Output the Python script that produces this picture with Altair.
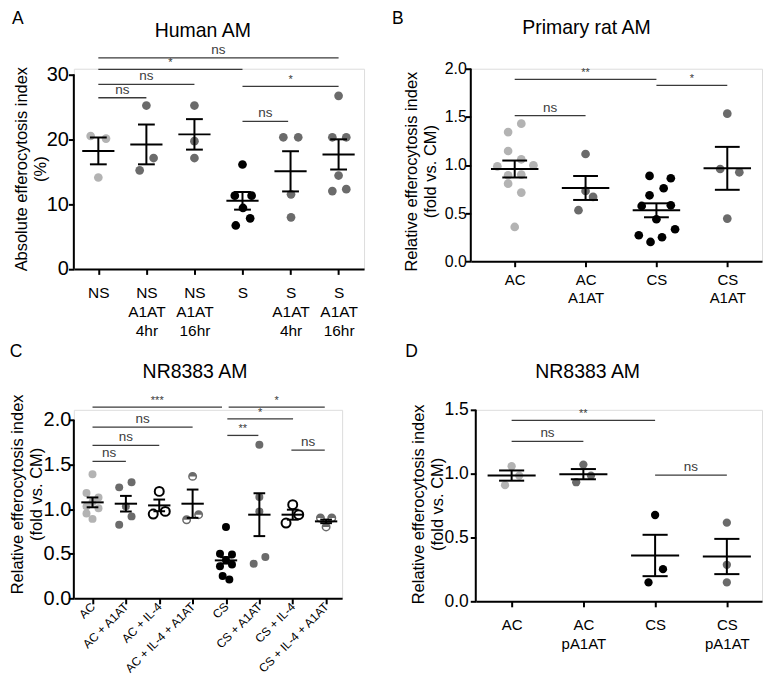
import altair as alt
import pandas as pd

FONT = "Liberation Sans"
LIGHT = "#b3b3b3"
DARK = "#6b6b6b"
BLACK = "#000000"
SIG = "#3a3a3a"
HALF_PATH = "M -1 0 A 1 1 0 0 1 1 0 Z"

# ---------------- Panel A : Human AM ----------------
a_labels = ["NS", "NS|A1AT|4hr", "NS|A1AT|16hr", "S", "S|A1AT|4hr", "S|A1AT|16hr"]
a_group = [0, 0, 0, 1, 1, 1, 2, 2, 2, 3, 3, 3, 3, 3, 3, 4, 4, 4, 4, 5, 5, 5, 5, 5, 5]
a_value = [20.5, 20.1, 14.1,
           25.2, 17.1, 15.2,
           25.2, 19.7, 17.1,
           16.1, 11.3, 11.3, 9.4, 7.8, 6.7,
           20.3, 20.3, 11.5, 7.95,
           26.7, 20.3, 20.3, 14.4, 12.0, 12.3]
a_jitter = [-0.16, 0.16, 0.0,
            0.0, 0.15, -0.14,
            0.0, 0.0, 0.0,
            0.0, -0.16, 0.19, 0.01, 0.16, -0.14,
            -0.15, 0.16, 0.01, 0.01,
            0.0, -0.13, 0.16, 0.0, -0.13, 0.16]
a_mean = [18.2, 19.2, 20.75, 10.5, 15.05, 17.66]
a_sem = [2.07, 3.07, 2.35, 1.36, 3.1, 2.33]
a_sig_from = [0, 0, 0, 0, 3, 3]
a_sig_to = [5, 3, 2, 1, 5, 3.95]
a_sig_y = [32.56, 30.77, 28.46, 26.4, 28.15, 22.77]
a_sig_text = ["ns", "*", "ns", "ns", "*", "ns"]
a_colors = [LIGHT, DARK, DARK, BLACK, DARK, DARK]
a_kinds = ["fill"] * 6

# ---------------- Panel B : Primary rat AM ----------------
b_labels = ["AC", "AC|A1AT", "CS", "CS|A1AT"]
b_group = [0] * 11 + [1] * 4 + [2] * 11 + [3] * 4
b_value = [1.429, 1.342, 1.145, 1.059, 0.986, 0.996, 0.893, 0.90, 0.806, 0.713, 0.356,
           1.114, 0.73, 0.668, 0.53,
           0.886, 0.862, 0.758, 0.685, 0.574, 0.581, 0.436, 0.27, 0.332, 0.249, 0.20,
           1.533, 0.958, 0.924, 0.443]
b_jitter = [0.093, -0.093, -0.093, 0.093, -0.245, 0.264, -0.093, 0.093, -0.093, 0.093, 0.0,
            0.0, 0.0, 0.106, -0.10,
            -0.097, 0.203, 0.102, -0.097, -0.208, 0.203, 0.0, -0.249, 0.263, 0.079, -0.083,
            0.0, -0.10, 0.17, 0.0]
b_mean = [0.958, 0.761, 0.529, 0.965]
b_sem = [0.088, 0.1245, 0.0725, 0.223]
b_sig_from = [0, 2, 0]
b_sig_to = [2, 3, 1]
b_sig_y = [1.889, 1.827, 1.512]
b_sig_text = ["**", "*", "ns"]
b_colors = [LIGHT, DARK, BLACK, DARK]
b_kinds = ["fill"] * 4

# ---------------- Panel C : NR8383 AM ----------------
c_labels = ["AC", "AC + A1AT", "AC + IL-4", "AC + IL-4 + A1AT",
            "CS", "CS + A1AT", "CS + IL-4", "CS + IL-4 + A1AT"]
c_group = [0] * 8 + [1] * 5 + [2] * 3 + [3] * 3 + [4] * 8 + [5] * 5 + [6] * 3 + [7] * 3
c_value = [1.39, 1.18, 1.13, 1.08, 1.03, 1.01, 0.95, 0.89,
           1.243, 1.30, 1.03, 0.825, 0.918,
           1.198, 0.944, 0.974,
           1.366, 0.88, 0.937,
           0.80, 0.50, 0.49, 0.43, 0.36, 0.38, 0.25, 0.21,
           1.72, 1.134, 0.974, 0.388, 0.463,
           1.049, 0.843, 0.937,
           0.90, 0.90, 0.80]
c_jitter = [0.0, -0.18, 0.18, 0.0, -0.18, 0.18, -0.18, 0.0,
            -0.2, 0.17, 0.0, -0.2, 0.17,
            0.0, -0.18, 0.18,
            0.0, -0.18, 0.18,
            0.0, -0.18, 0.18, 0.0, -0.18, 0.18, -0.1, 0.1,
            0.0, 0.0, 0.0, -0.17, 0.18,
            0.0, -0.2, 0.18,
            -0.17, 0.17, 0.0]
c_mean = [1.075, 1.06, 1.041, 1.06, 0.425, 0.937, 0.937, 0.862]
c_sem = [0.055, 0.0875, 0.0655, 0.1585, 0.0355, 0.24, 0.056, 0.02]
c_sig_from = [0, 4.08, 0, 4.04, 0, 4.04, 0, 5.96]
c_sig_to = [3.88, 6.96, 3, 6.01, 2, 4.97, 1, 6.96]
c_sig_y = [2.142, 2.142, 1.918, 2.011, 1.713, 1.825, 1.534, 1.66]
c_sig_text = ["***", "*", "ns", "*", "ns", "**", "ns", "ns"]
c_colors = [LIGHT, DARK, BLACK, DARK, BLACK, DARK, BLACK, DARK]
c_kinds = ["fill", "fill", "open", "half", "fill", "fill", "open", "half"]

# ---------------- Panel D : NR8383 AM ----------------
d_labels = ["AC", "AC|pA1AT", "CS", "CS|pA1AT"]
d_group = [0, 0, 0, 1, 1, 1, 2, 2, 2, 3, 3, 3]
d_value = [1.058, 0.985, 0.91,
           1.071, 0.985, 0.933,
           0.676, 0.252, 0.148,
           0.616, 0.286, 0.148]
d_jitter = [0.0, 0.106, -0.092,
            0.0, 0.106, -0.10,
            0.0, 0.11, -0.092,
            0.0, 0.0, 0.0]
d_mean = [0.985, 0.996, 0.359, 0.351]
d_sem = [0.04, 0.04, 0.162, 0.138]
d_sig_from = [0, 0, 2]
d_sig_to = [2, 1, 3]
d_sig_y = [1.417, 1.253, 0.988]
d_sig_text = ["**", "ns", "ns"]
d_colors = [LIGHT, DARK, BLACK, DARK]
d_kinds = ["fill"] * 4


def panel(labels, group, value, jitter, mean, sem, sig_from, sig_to, sig_y, sig_text,
          colors, kinds, ytop, yvals, yfmt, ytitle, w, h, xdom, title, letter, style):
    n = len(labels)
    ext = style["ext"]                       # empty room above the top tick, in pixels
    ymax = ytop + ext * ytop / h
    pts = pd.DataFrame({"g": group, "v": value, "j": jitter})
    pts["kind"] = [kinds[g] for g in group]
    pts["col"] = [colors[g] for g in group]
    stats = pd.DataFrame({"g": list(range(n)), "m": mean, "s": sem})
    sig = pd.DataFrame({"a": sig_from, "b": sig_to, "y": sig_y, "t": sig_text})
    frame = pd.DataFrame({"x0": [xdom[0]], "y0": [0], "y1": [ytop]})

    label_expr = ("split([" + ",".join("'%s'" % l for l in labels) + "][datum.value], '|')")
    xscale = alt.Scale(domain=xdom, nice=False, zero=False)
    yscale = alt.Scale(domain=[0, ymax], nice=False, zero=True)
    xaxis = alt.Axis(values=list(range(n)), labelExpr=label_expr, title=None, grid=False,
                     domainColor=BLACK, domainWidth=2, tickColor=BLACK, tickWidth=2, tickSize=5.5,
                     labelFont=FONT, labelFontSize=style["xfs"], labelColor=BLACK,
                     labelAngle=style["xangle"], labelAlign=style["xalign"],
                     labelBaseline=style["xbase"], labelPadding=style["xpad"],
                     labelLineHeight=19, labelOverlap=False, labelFlush=False)
    yaxis = alt.Axis(values=yvals, format=yfmt, title=ytitle, grid=False, domain=False,
                     tickColor=BLACK, tickWidth=2, tickSize=5.5,
                     labelFont=FONT, labelFontSize=style["yfs"], labelColor=BLACK,
                     labelPadding=style["ypad"],
                     titleFont=FONT, titleFontSize=16.5, titleFontWeight="normal", titleColor=BLACK,
                     titleLineHeight=19, titlePadding=style["ytpad"], titleY=style["tyy"],
                     labelOverlap=False, labelFlush=False)

    def X(f):
        return alt.X(f, type="quantitative", scale=xscale, axis=xaxis)

    def Y(f):
        return alt.Y(f, type="quantitative", scale=yscale, axis=yaxis)

    # y axis line, from 0 up to the top tick only
    layers = [alt.Chart(frame).mark_rule(color=BLACK, strokeWidth=2).encode(
        x=X("x0"), y=Y("y0"), y2="y1")]

    base_pts = alt.Chart(pts).transform_calculate(px="datum.g + datum.j")
    sz = style["dot"]
    layers.append(base_pts.transform_filter("datum.kind == 'fill'").mark_circle(
        size=sz, opacity=1).encode(x=X("px"), y=Y("v"), color=alt.Color("col:N", scale=None)))
    if "open" in kinds:
        layers.append(base_pts.transform_filter("datum.kind == 'open'").mark_point(
            shape="circle", filled=False, size=style["open"], strokeWidth=2, opacity=1).encode(
            x=X("px"), y=Y("v"), stroke=alt.Color("col:N", scale=None)))
    if "half" in kinds:
        layers.append(base_pts.transform_filter("datum.kind == 'half'").mark_point(
            shape="circle", filled=False, size=style["half"], strokeWidth=1.5, opacity=1).encode(
            x=X("px"), y=Y("v"), stroke=alt.Color("col:N", scale=None)))
        layers.append(base_pts.transform_filter("datum.kind == 'half'").mark_point(
            shape=HALF_PATH, filled=True, size=style["half"], opacity=1).encode(
            x=X("px"), y=Y("v"), fill=alt.Color("col:N", scale=None)))

    st = alt.Chart(stats).transform_calculate(
        lo="datum.m - datum.s", hi="datum.m + datum.s",
        ml="datum.g - 0.335", mr="datum.g + 0.335",
        cl="datum.g - 0.175", cr="datum.g + 0.175")
    layers.append(st.mark_rule(color=BLACK, strokeWidth=2).encode(
        x=X("ml"), x2="mr", y=Y("m")))
    layers.append(st.mark_rule(color=BLACK, strokeWidth=2).encode(
        x=X("g"), y=Y("lo"), y2="hi"))
    layers.append(st.transform_fold(["lo", "hi"], as_=["k", "cy"]).mark_rule(
        color=BLACK, strokeWidth=2).encode(x=X("cl"), x2="cr", y=Y("cy")))

    sg = alt.Chart(sig).transform_calculate(
        mid="(datum.a + datum.b) / 2",
        fs="indexof(datum.t, '*') >= 0 ? 11 : 13.5")
    layers.append(sg.mark_rule(color=SIG, strokeWidth=1.3).encode(
        x=X("a"), x2="b", y=Y("y")))
    layers.append(sg.mark_text(baseline="bottom", dy=-1, font=FONT, color=SIG).encode(
        x=X("mid"), y=Y("y"), text="t:N", size=alt.Size("fs:Q", scale=None)))

    # panel letter and panel title (annotation text, placed relative to the plot frame)
    heads = pd.DataFrame({"t": [letter, title]})
    layers.append(alt.Chart(heads).transform_filter("datum.t == '%s'" % letter).mark_text(
        align="left", baseline="alphabetic", font=FONT, fontSize=17.5, color=BLACK).encode(
        x=alt.value(style["lx"]), y=alt.value(style["ly"]), text="t:N"))
    layers.append(alt.Chart(heads).transform_filter("datum.t == '%s'" % title).mark_text(
        align="center", baseline="alphabetic", font=FONT, fontSize=19.5, color=BLACK).encode(
        x=alt.value(style["tx"]), y=alt.value(style["ty"]), text="t:N"))

    return alt.layer(*layers).properties(width=w, height=h + ext)


ytitle_rel = ["Relative efferocytosis index", "(fold vs. CM)"]

pA = panel(a_labels, a_group, a_value, a_jitter, a_mean, a_sem, a_sig_from, a_sig_to, a_sig_y,
           a_sig_text, a_colors, a_kinds, 30, [0, 10, 20, 30], "d",
           ["Absolute efferocytosis index", "(%)"], 291, 195, [-0.51, 5.53], "Human AM", "A",
           dict(ext=5.7, xfs=15.5, yfs=20, xangle=0, xalign="center", xbase="top", xpad=11.4,
                ytpad=-2, ypad=0, tyy=100.2, dot=76, open=81, half=60,
                lx=-62, ly=-45, tx=129.3, ty=-31.6))
pB = panel(b_labels, b_group, b_value, b_jitter, b_mean, b_sem, b_sig_from, b_sig_to, b_sig_y,
           b_sig_text, b_colors, b_kinds, 2, [0, 0.5, 1, 1.5, 2], ".1f", ytitle_rel,
           292, 193, [-0.62, 3.49], "Primary rat AM", "B",
           dict(ext=0, xfs=15, yfs=16, xangle=0, xalign="center", xbase="top", xpad=5.4,
                ytpad=6, ypad=-1, tyy=102.7, dot=76, open=81, half=60,
                lx=-79, ly=-45, tx=116, ty=-35))
pC = panel(c_labels, c_group, c_value, c_jitter, c_mean, c_sem, c_sig_from, c_sig_to, c_sig_y,
           c_sig_text, c_colors, c_kinds, 2, [0, 0.5, 1, 1.5, 2], ".1f", ytitle_rel,
           269, 179, [-0.56, 7.48], "NR8383 AM", "C",
           dict(ext=10, xfs=12, yfs=20, xangle=315, xalign="right", xbase="middle", xpad=0.5,
                ytpad=-1, ypad=-2.5, tyy=84.3, dot=64, open=81, half=56,
                lx=-64.3, ly=-53.4, tx=121.5, ty=-32.4))
pD = panel(d_labels, d_group, d_value, d_jitter, d_mean, d_sem, d_sig_from, d_sig_to, d_sig_y,
           d_sig_text, d_colors, d_kinds, 1.5, [0, 0.5, 1, 1.5], ".1f", ytitle_rel,
           287, 192, [-0.5, 3.49], "NR8383 AM", "D",
           dict(ext=0, xfs=15, yfs=17.5, xangle=0, xalign="center", xbase="top", xpad=11.1,
                ytpad=-1, ypad=2, tyy=94.3, dot=69, open=81, half=60,
                lx=-70.6, ly=-53.4, tx=112.2, ty=-32.4))

chart = alt.vconcat(
    alt.hconcat(pA, pB, spacing=26),
    alt.hconcat(pC, pD, spacing=61),
    spacing=2,
).properties(padding={"left": 0, "top": 0, "right": 0, "bottom": 0}).configure_view(
    stroke=None).configure(font=FONT)

chart.save("out.html", embed_options={"renderer": "svg", "actions": False})
